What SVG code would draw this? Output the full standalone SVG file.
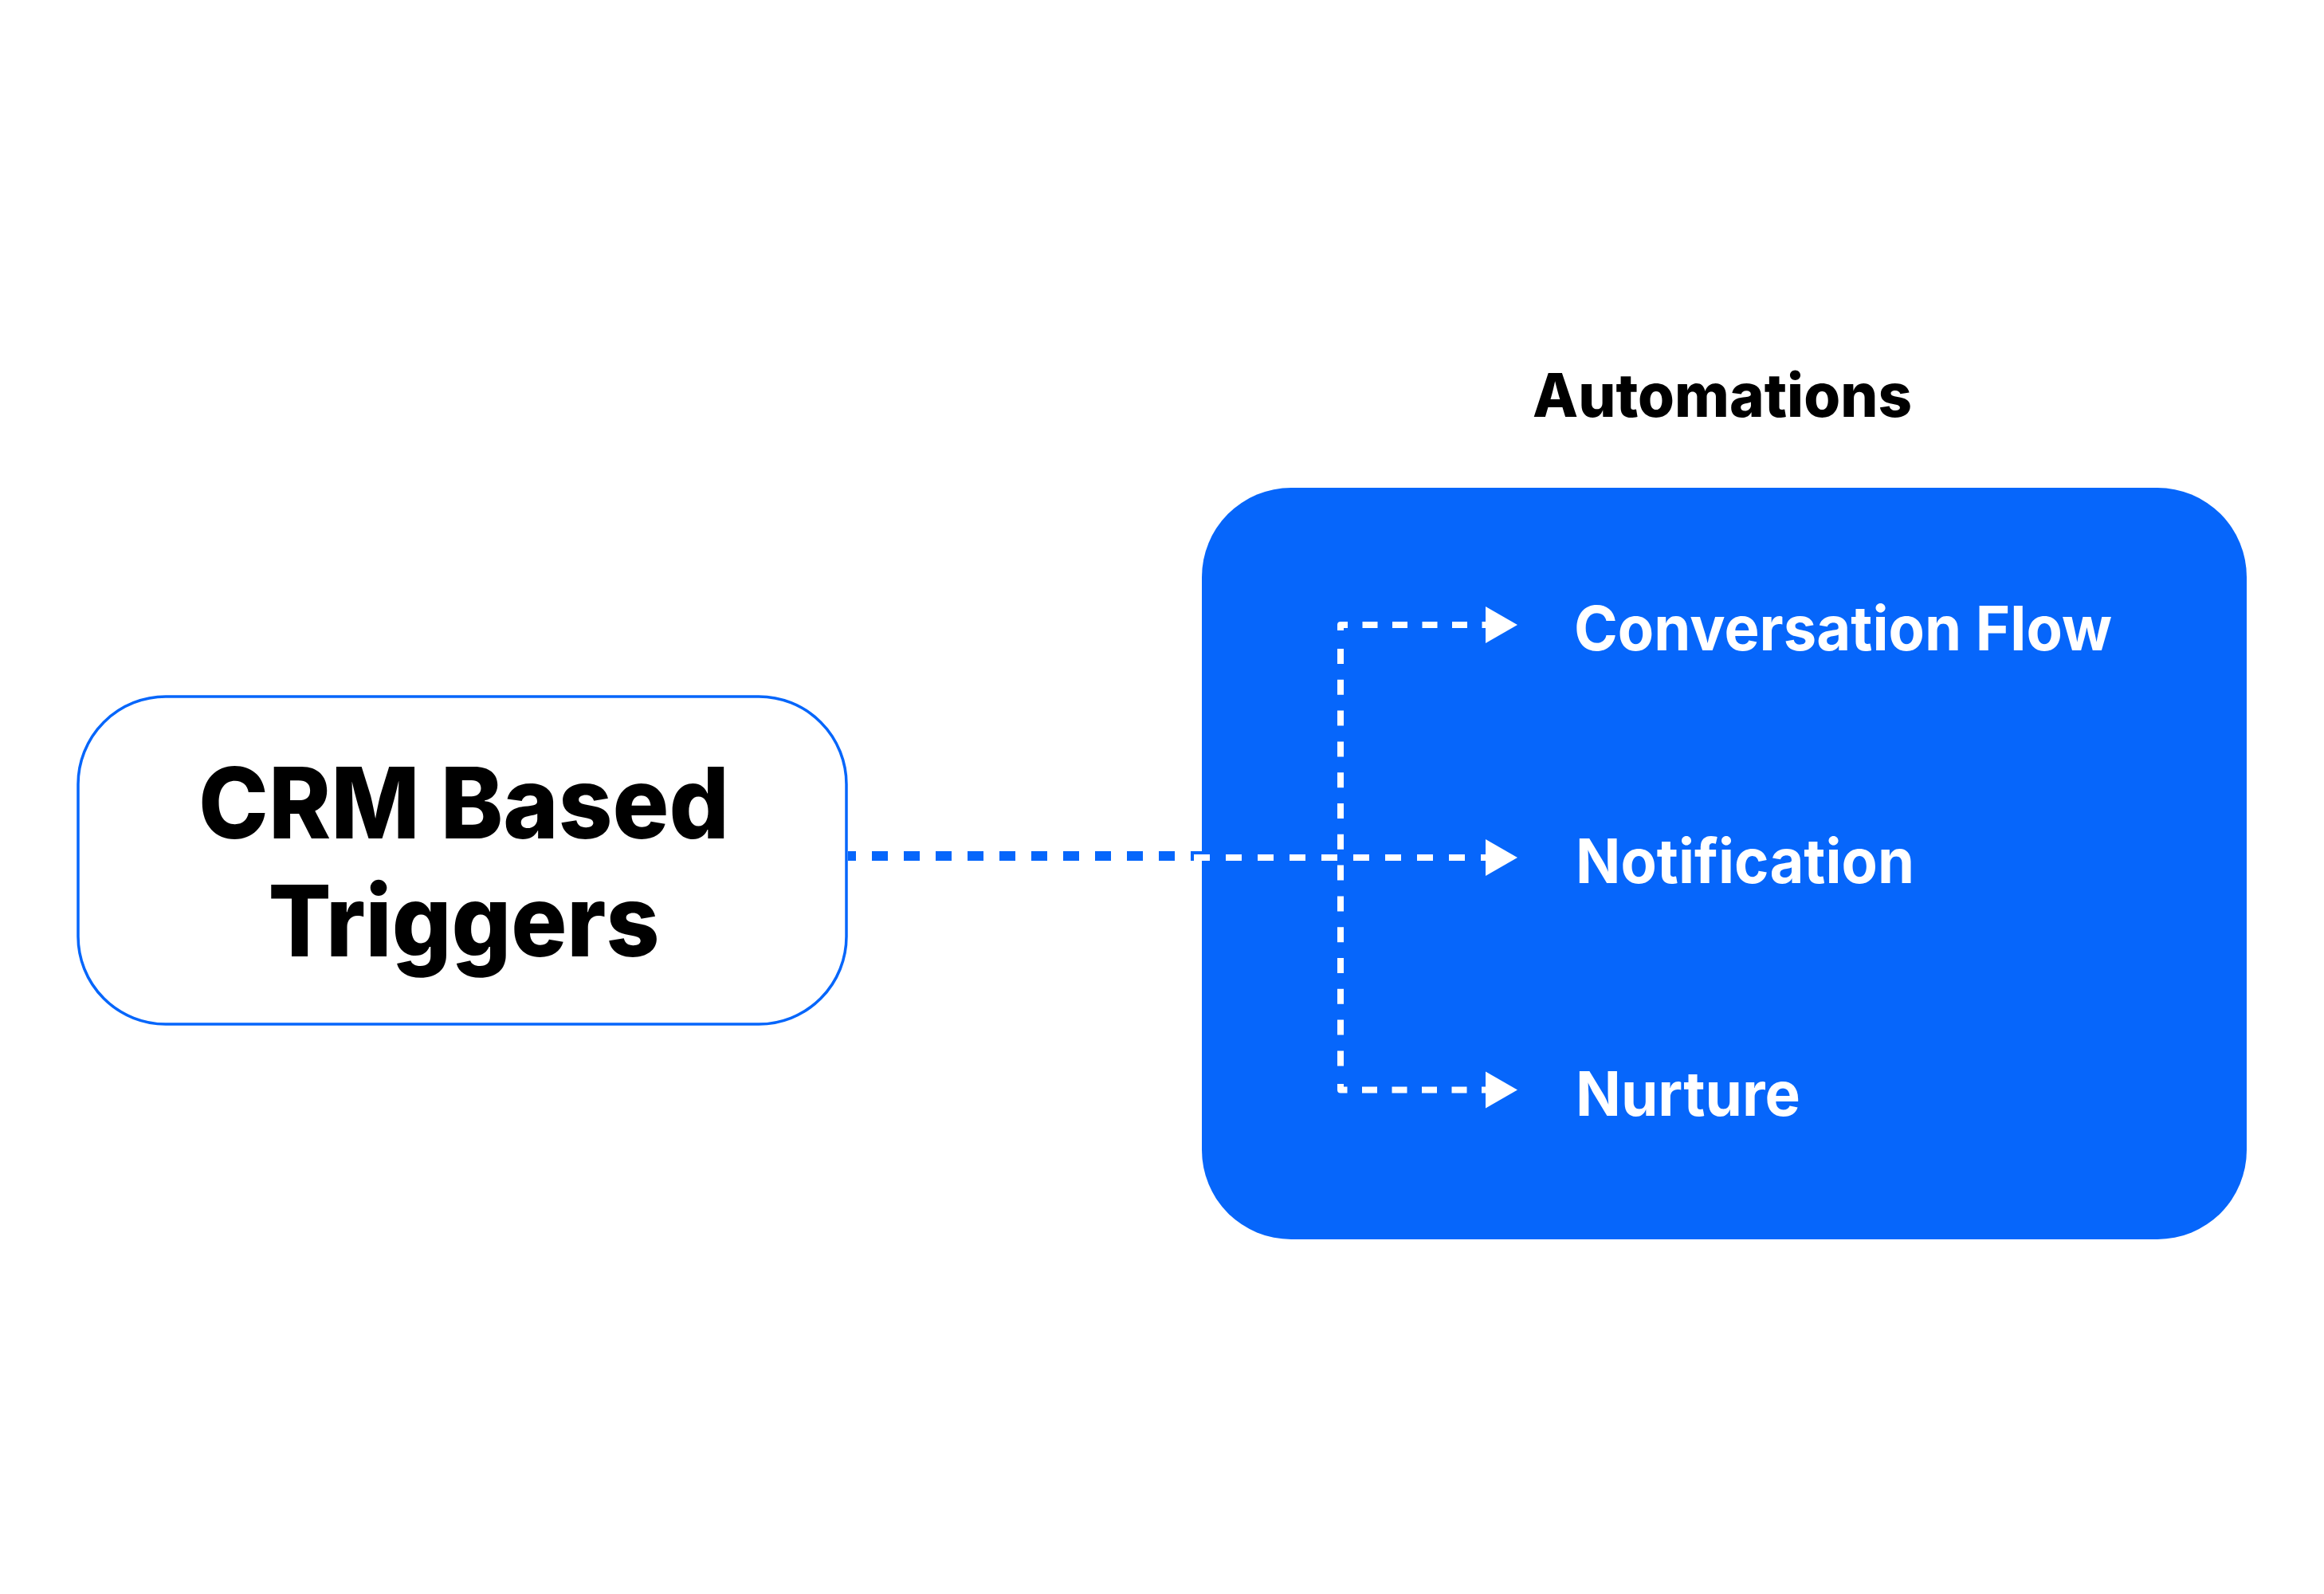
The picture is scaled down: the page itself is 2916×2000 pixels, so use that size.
<svg xmlns="http://www.w3.org/2000/svg" width="2916" height="2000" viewBox="0 0 2916 2000">
  <defs>
    <style>
      .bg { fill: #ffffff; }
      .trigger-box { fill: #ffffff; stroke: #0666FB; stroke-width: 3.5; }
      .auto-box { fill: #0666FB; }
      .big { font-family: Inter, "Liberation Sans", sans-serif; font-weight: 800; font-size: 124px; fill: #000000; }
      .title { font-family: Inter, "Liberation Sans", sans-serif; font-weight: 800; font-size: 76px; fill: #000000; }
      .item { font-family: Inter, "Liberation Sans", sans-serif; font-weight: 700; font-size: 77px; fill: #ffffff; }
      .blue-dash { fill: none; stroke: #0666FB; stroke-width: 12; stroke-dasharray: 20 20; stroke-dashoffset: 10; }
      .white-main { fill: none; stroke: #ffffff; stroke-width: 8; stroke-dasharray: 20 20; }
      .white-branch { fill: none; stroke: #ffffff; stroke-width: 8; stroke-dasharray: 19 18.5; stroke-dashoffset: 3; stroke-linejoin: round; }
      .white-vert { fill: none; stroke: #ffffff; stroke-width: 8; stroke-dasharray: 19 19.8; }
    </style>
    <marker id="arrow" markerUnits="userSpaceOnUse" markerWidth="42" markerHeight="48" refX="0" refY="23" orient="auto" overflow="visible">
      <path d="M0,0 L40,23 L0,46 Z" fill="#ffffff"/>
    </marker>
  </defs>

  <rect class="bg" x="0" y="0" width="2916" height="2000"/>

  <g id="automations-title">
    <text class="title" x="1923" y="523" textLength="476" lengthAdjust="spacingAndGlyphs">Automations</text>
  </g>

  <g id="crm-based-triggers">
    <rect class="trigger-box" x="98" y="874" width="964" height="411" rx="110" ry="110"/>
    <text class="big" x="582" y="1052" text-anchor="middle" textLength="666" lengthAdjust="spacingAndGlyphs">CRM Based</text>
    <text class="big" x="582" y="1200" text-anchor="middle" textLength="491" lengthAdjust="spacingAndGlyphs">Triggers</text>
  </g>

  <g id="automations">
    <rect class="auto-box" x="1508" y="612" width="1311" height="943" rx="112" ry="112"/>
  </g>

  <g id="conversation-flow">
    <text class="item" x="1975" y="816" textLength="675" lengthAdjust="spacingAndGlyphs">Conversation Flow</text>
  </g>

  <g id="notification">
    <text class="item" x="1977" y="1108" textLength="425" lengthAdjust="spacingAndGlyphs">Notification</text>
  </g>

  <g id="nurture">
    <text class="item" x="1977" y="1400" textLength="282" lengthAdjust="spacingAndGlyphs">Nurture</text>
  </g>

  <g id="connectors">
    <line class="blue-dash" x1="1064" y1="1074" x2="1508" y2="1074"/>
    <line class="white-main" x1="1498" y1="1076" x2="1864" y2="1076" marker-end="url(#arrow)"/>
    <path class="white-vert" d="M1682,814 V1340"/>
    <path class="white-branch" d="M1682,791 V784 H1864" marker-end="url(#arrow)"/>
    <path class="white-branch" d="M1682,1360 V1367.5 H1864" marker-end="url(#arrow)"/>
  </g>
</svg>
